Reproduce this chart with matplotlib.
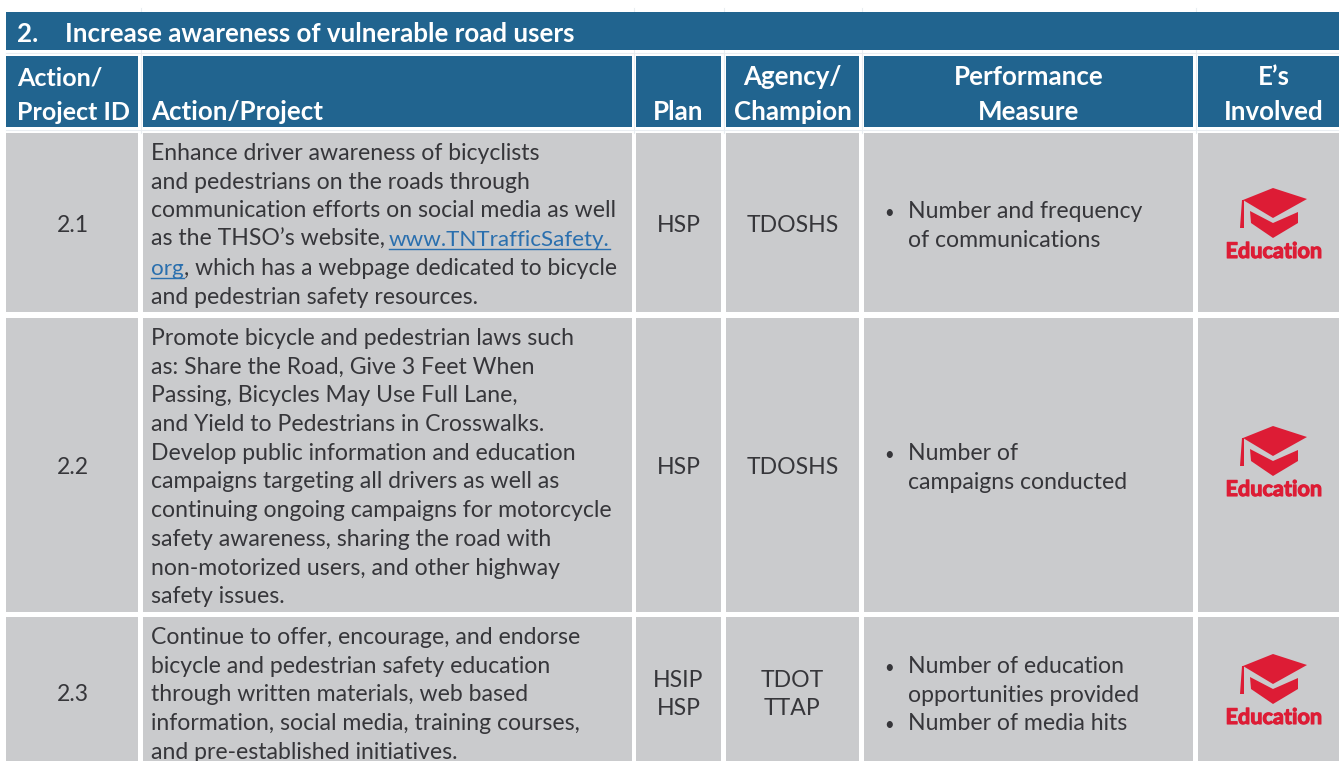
import matplotlib
matplotlib.use("Agg")
import matplotlib.pyplot as plt
import matplotlib.patheffects as pe
from matplotlib.patches import Rectangle, Polygon

plt.rcParams['font.family'] = ['Lato', 'DejaVu Sans']

title_no = "2."
title_text = "Increase awareness of vulnerable road users"
headers = [["Action/", "Project ID"], ["Action/Project"], ["Plan"], ["Agency/", "Champion"],
           ["Performance", "Measure"], ["E\u2019s", "Involved"]]
ids = ["2.1", "2.2", "2.3"]
actions = [
    ["Enhance driver awareness of bicyclists", "and pedestrians on the roads through",
     "communication efforts on social media as well", "as the THSO\u2019s website, www.TNTrafficSafety.",
     "org, which has a webpage dedicated to bicycle", "and pedestrian safety resources."],
    ["Promote bicycle and pedestrian laws such", "as: Share the Road, Give 3 Feet When",
     "Passing, Bicycles May Use Full Lane,", "and Yield to Pedestrians in Crosswalks.",
     "Develop public information and education", "campaigns targeting all drivers as well as",
     "continuing ongoing campaigns for motorcycle", "safety awareness, sharing the road with",
     "non-motorized users, and other highway", "safety issues."],
    ["Continue to offer, encourage, and endorse", "bicycle and pedestrian safety education",
     "through written materials, web based", "information, social media, training courses,",
     "and pre-established initiatives."],
]
plans = [["HSP"], ["HSP"], ["HSIP", "HSP"]]
agencies = [["TDOSHS"], ["TDOSHS"], ["TDOT", "TTAP"]]
measures = [
    [("\u2022", "Number and frequency"), ("", "of communications")],
    [("\u2022", "Number of"), ("", "campaigns conducted")],
    [("\u2022", "Number of education"), ("", "opportunities provided"), ("\u2022", "Number of media hits")],
]
icon_label = "Education"

BLUE, GREY, INK, RED, LINK = "#21648F", "#CACBCD", "#36363A", "#DD1C35", "#2A6FAE"
FAINT = "#E9EDF1"
col_x = [(6, 138), (143, 632), (636, 721), (726, 859), (864, 1193), (1198, 1339)]
row_y = [(133, 312), (318, 612), (617, 790)]
faint_x = [140.5, 633.5, 723.5, 861.5, 1195.5]
action_y0 = [160, 345, 644]
center_y = [232, 474, 701]
icon_y = [222, 460, 688]
measure_y0 = [218, 460, 673]
FS, HFS, LH = 16.6, 18.6, 28.7

fig = plt.figure(figsize=(13.39, 7.61), dpi=100, facecolor="white")
ax = fig.add_axes([0, 0, 1, 1])
ax.set_xlim(0, 1339)
ax.set_ylim(761, 0)
ax.axis("off")


def box(x0, x1, y0, y1, c):
    ax.add_patch(Rectangle((x0, y0), x1 - x0, y1 - y0, fc=c, ec="none"))


def label(x, y, s, c=INK, ha="left", w="normal", fs=FS, **kw):
    return ax.text(x, y, s, color=c, ha=ha, va="baseline", fontweight=w, fontsize=fs, **kw)


def centred(x0, x1, y, lines):
    top = y - 27.5 * (len(lines) - 1) / 2
    for i, s in enumerate(lines):
        label((x0 + x1) / 2, top + i * 27.5, s, ha="center")


def icon(xc, yc):
    ax.add_patch(Polygon([(xc - 31, yc - 22), (xc - 1, yc - 34), (xc + 33, yc - 23), (xc - 1, yc - 4)],
                         fc=RED, ec="none"))
    ax.add_patch(Polygon([(xc - 32, yc - 22), (xc - 30, yc - 22), (xc - 30, yc + 6), (xc - 34, yc + 6)],
                         fc=RED, ec="none"))
    ax.add_patch(Polygon([(xc - 24, yc - 11), (xc - 1, yc + 1), (xc + 24, yc - 10), (xc + 24, yc + 1),
                          (xc - 1, yc + 16), (xc - 23, yc + 1)], fc=RED, ec="none"))
    label(xc, yc + 36, icon_label, c=RED, ha="center", w="bold", fs=15.6,
          path_effects=[pe.withStroke(linewidth=0.8, foreground=RED)])


for x in faint_x:
    ax.plot([x, x], [8, 133], color=FAINT, lw=0.8, zorder=0)
ax.plot([6, 1339], [53, 53], color=FAINT, lw=0.8, zorder=0)
ax.plot([6, 1339], [130, 130], color=FAINT, lw=0.8, zorder=0)

box(6, 1339, 12, 50, BLUE)
label(17, 42, title_no, c="white", w="bold", fs=HFS)
label(65, 42, title_text, c="white", w="bold", fs=HFS)

for (x0, x1) in col_x:
    box(x0, x1, 56, 127, BLUE)
    for (y0, y1) in row_y:
        box(x0, x1, y0, y1, GREY)

for i, lines in enumerate(headers):
    x0, x1 = col_x[i]
    ys = [85, 120] if len(lines) == 2 else [120]
    for y, s in zip(ys, lines):
        if i == 0:
            label(17, y, s, c="white", w="bold", fs=HFS - 0.6)
        elif i == 1:
            label(151, y, s, c="white", w="bold", fs=HFS)
        elif i == 5:
            label(1274, y, s, c="white", ha="center", w="bold", fs=HFS)
        else:
            label((x0 + x1) / 2, y, s, c="white", ha="center", w="bold", fs=HFS)

for r in range(3):
    yc = center_y[r]
    label(73, yc, ids[r], ha="center")
    for i, s in enumerate(actions[r]):
        y = action_y0[r] + i * LH
        if "www." in s:
            head, link = s.split("www.")
            t = label(151, y, head)
            fig.canvas.draw()
            lt = label(389, y, "www." + link, c=LINK, fs=16.1)
            b2 = lt.get_window_extent()
            ax.plot([b2.x0, b2.x1], [y + 3, y + 3], color=LINK, lw=1)
        elif s.startswith("org,"):
            t = label(151, y, "org", c=LINK, fs=16.1)
            fig.canvas.draw()
            bb = t.get_window_extent()
            ax.plot([bb.x0, bb.x1], [y + 3, y + 3], color=LINK, lw=1)
            label(bb.x1, y, s[3:], fs=16.5)
        else:
            label(151, y, s)
    centred(*col_x[2], yc, plans[r])
    centred(*col_x[3], yc, agencies[r])
    for i, (b, s) in enumerate(measures[r]):
        y = measure_y0[r] + i * LH
        if b:
            label(889, y, b, ha="center", fs=12)
        label(908, y, s)
    icon(1274, icon_y[r])

fig.savefig("out.png", dpi=100)
